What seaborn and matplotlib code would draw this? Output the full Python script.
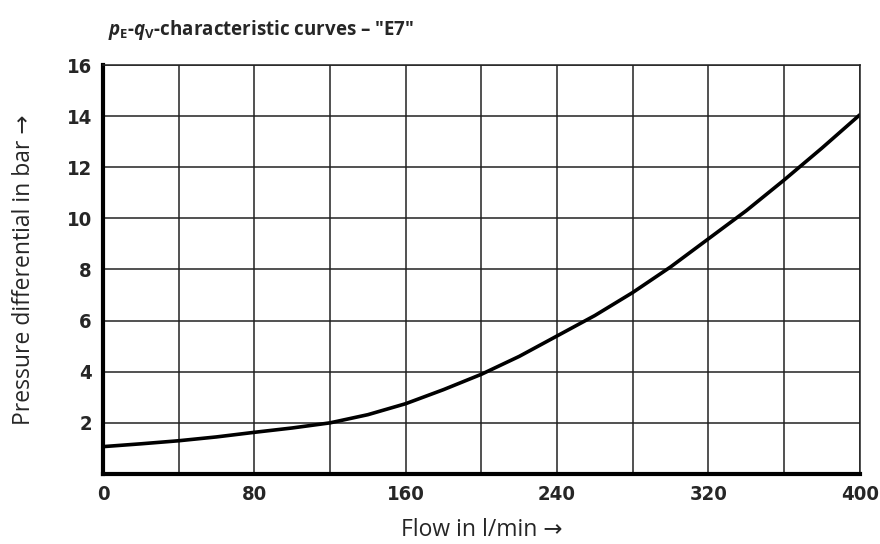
import numpy as np
import matplotlib
matplotlib.use('Agg')
import matplotlib.pyplot as plt
import pandas as pd
import seaborn as sns

# ====== data ======
flow = [0, 20, 40, 60, 80, 100, 120, 140, 160, 180, 200,
        220, 240, 260, 280, 300, 320, 340, 360, 380, 400]
pressure = [1.07, 1.18, 1.30, 1.45, 1.63, 1.80, 2.0, 2.32, 2.75, 3.3, 3.9,
            4.6, 5.4, 6.2, 7.1, 8.1, 9.2, 10.3, 11.5, 12.75, 14.05]

x_ticks = list(range(0, 401, 40))
x_labels = [str(v) if v % 80 == 0 else '' for v in x_ticks]
y_ticks = list(range(0, 17, 2))
y_labels = ['' if v == 0 else str(v) for v in y_ticks]

df = pd.DataFrame({'flow': flow, 'pressure': pressure})

sns.set_style('white')
plt.rcParams['font.family'] = ['Open Sans', 'DejaVu Sans']
plt.rcParams['mathtext.fontset'] = 'custom'
plt.rcParams['mathtext.rm'] = 'Open Sans:bold'
plt.rcParams['mathtext.bf'] = 'Open Sans:bold'
plt.rcParams['mathtext.it'] = 'Open Sans:bold:italic'

fig = plt.figure(figsize=(8.8, 5.44), dpi=100)
ax = fig.add_axes([0.117, 0.1287, 0.860, 0.7518])

sns.lineplot(data=df, x='flow', y='pressure', color='black', linewidth=2.6, ax=ax)

ax.set_xlim(0, 400)
ax.set_ylim(0, 16)
ax.set_xticks(x_ticks)
ax.set_xticklabels(x_labels)
ax.set_yticks(y_ticks)
ax.set_yticklabels(y_labels)
ax.grid(True, color='#222222', linewidth=1.1)
ax.set_axisbelow(True)
ax.tick_params(length=0, pad=8)

for lab in ax.get_xticklabels() + ax.get_yticklabels():
    lab.set_family(['DejaVu Sans'])
    lab.set_stretch('condensed')
    lab.set_fontweight('bold')
    lab.set_fontsize(14.5)

for side in ['top', 'right']:
    ax.spines[side].set_linewidth(1.1)
    ax.spines[side].set_color('#222222')
for side in ['bottom', 'left']:
    ax.spines[side].set_linewidth(3)
    ax.spines[side].set_color('black')

ax.set_xlabel('Flow in l/min \u2192', fontsize=16.5, labelpad=10)
ax.set_ylabel('Pressure differential in bar \u2192', fontsize=16.5, labelpad=22)

title = r'$\mathit{p}_\mathrm{E}$-$\mathit{q}_\mathrm{V}$-characteristic curves ' + '\u2013 "E7"'
fig.text(0.123, 0.945, title, fontsize=13.5, fontweight='bold', ha='left', va='center')

fig.savefig('out.png', dpi=100)
